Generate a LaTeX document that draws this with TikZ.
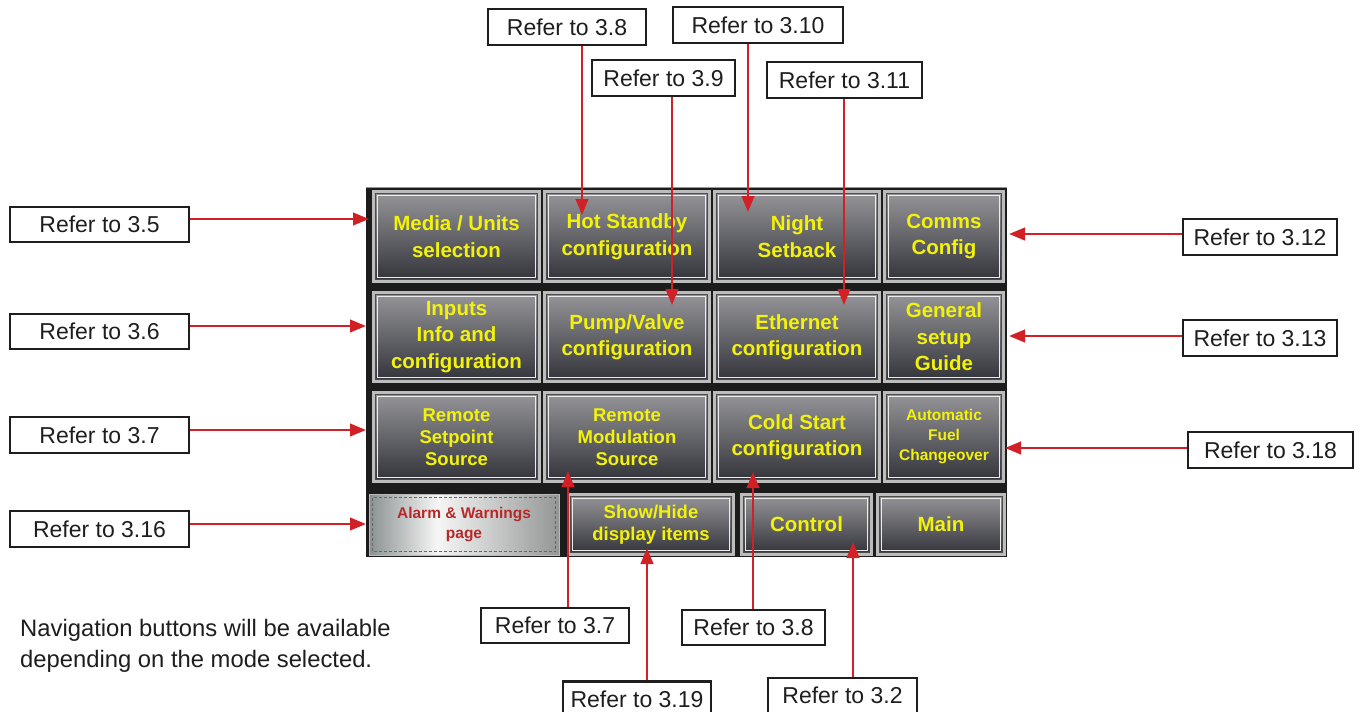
\documentclass[tikz,border=0pt]{standalone}
\usepackage{fontspec}
\setmainfont{Liberation Sans}
\usetikzlibrary{arrows.meta,calc}

\definecolor{arrowred}{RGB}{210,32,39}
\definecolor{btnyellow}{RGB}{242,242,10}
\definecolor{alarmred}{RGB}{185,40,40}
\definecolor{panelbg}{RGB}{28,28,28}
\definecolor{panelrim}{RGB}{150,150,150}
\definecolor{btnframe}{RGB}{188,188,188}
\definecolor{facetop}{RGB}{150,150,154}
\definecolor{facebot}{RGB}{50,51,57}
\definecolor{metalL}{RGB}{138,144,144}
\definecolor{metalH}{RGB}{246,246,246}
\definecolor{metalR}{RGB}{148,150,150}
\definecolor{labelink}{RGB}{30,30,30}

% brushed-metal face of the alarm button
\pgfdeclarehorizontalshading{metal}{100bp}{color(0bp)=(metalL); color(25bp)=(metalL); color(43bp)=(metalH); color(75bp)=(metalR); color(100bp)=(metalR)}

\tikzset{
  refbox/.style={draw=labelink, line width=2.3pt, fill=white, inner sep=0pt,
    text=labelink, font=\fontsize{23}{27}\selectfont},
  arr/.style={draw=arrowred, line width=2.6pt, -{Triangle[length=16pt,width=12.5pt]}},
  btn/.style={rectangle, inner sep=0pt, draw=btnframe, line width=3pt,
    top color=facetop, bottom color=facebot, text=btnyellow, align=center,
    font=\bfseries\fontsize{20.5}{26.5}\selectfont,
    path picture={
      \draw[black!70, line width=1.2pt]
        ([shift={(2.2pt,-2.2pt)}]path picture bounding box.north west) rectangle
        ([shift={(-2.2pt,2.2pt)}]path picture bounding box.south east);
      \draw[white!85!gray, line width=1pt]
        ([shift={(3.6pt,-3.6pt)}]path picture bounding box.north west) rectangle
        ([shift={(-3.6pt,3.6pt)}]path picture bounding box.south east);
    }},
  smallbtn/.style={btn, font=\bfseries\fontsize{18.5}{22}\selectfont},
  tinybtn/.style={btn, font=\bfseries\fontsize{15.5}{20}\selectfont},
  alarmbtn/.style={rectangle, inner sep=0pt, draw=gray!55, line width=1pt,
    shading=metal, text=alarmred, align=center,
    font=\bfseries\fontsize{15.5}{20}\selectfont,
    path picture={
      \draw[black!60, line width=0.9pt, dash pattern=on 3pt off 2pt]
        ([shift={(3.5pt,-3.5pt)}]path picture bounding box.north west) rectangle
        ([shift={(-3.5pt,3.5pt)}]path picture bounding box.south east);
    }},
}

\begin{document}
\begin{tikzpicture}[x=1pt,y=-1pt]
\useasboundingbox[fill=white] (0,0) rectangle (1358,712);

% ---- touch-screen panel ----
\fill[panelbg] (366,187) rectangle (1007,557);
\draw[panelrim, line width=1.5pt] (366,187.5) -- (1007,187.5);

% row 1
\node[btn, minimum width=166pt, minimum height=90pt] (media) at (456.5,236.5) {Media / Units\\selection};
\node[btn, minimum width=165pt, minimum height=90pt] (hot)   at (627,236.5)   {Hot Standby\\configuration};
\node[btn, minimum width=165pt, minimum height=90pt] (night) at (797,236.5)   {Night\\Setback};
\node[btn, minimum width=119pt, minimum height=90pt] (comms) at (944,236.5)   {Comms\\Config};
% row 2
\node[btn, minimum width=166pt, minimum height=89pt] (inputs)  at (456.5,337) {Inputs\\Info and\\configuration};
\node[btn, minimum width=165pt, minimum height=89pt] (pump)    at (627,337)   {Pump/Valve\\configuration};
\node[btn, minimum width=165pt, minimum height=89pt] (ether)   at (797,337)   {Ethernet\\configuration};
\node[btn, minimum width=119pt, minimum height=89pt] (general) at (944,337)   {General\\setup\\Guide};
% row 3
\node[smallbtn, minimum width=166pt, minimum height=89pt] (rsp)  at (456.5,437) {Remote\\Setpoint\\Source};
\node[smallbtn, minimum width=165pt, minimum height=89pt] (rmod) at (627,437)   {Remote\\Modulation\\Source};
\node[btn,      minimum width=165pt, minimum height=89pt] (cold) at (797,437)   {Cold Start\\configuration};
\node[tinybtn,  minimum width=119pt, minimum height=89pt] (fuel) at (944,437)   {Automatic\\Fuel\\Changeover};
% row 4
\node[alarmbtn, minimum width=190pt, minimum height=61pt] (alarm) at (464,524.5) {Alarm \& Warnings\\page};
\node[smallbtn, minimum width=165pt, minimum height=60pt] (show)  at (651,524.5) {Show/Hide\\display items};
\node[btn,      minimum width=130pt, minimum height=60pt] (ctrl)  at (806.5,524.5) {Control};
\node[btn,      minimum width=127pt, minimum height=60pt] (main)  at (941,524.5) {Main};

% ---- reference labels ----
\node[refbox, minimum width=179pt, minimum height=35pt] (l35)  at (99.5,224.5) {Refer to 3.5};
\node[refbox, minimum width=179pt, minimum height=35pt] (l36)  at (99.5,331.5) {Refer to 3.6};
\node[refbox, minimum width=179pt, minimum height=36pt] (l37)  at (99.5,435)   {Refer to 3.7};
\node[refbox, minimum width=179pt, minimum height=36pt] (l316) at (99.5,529)   {Refer to 3.16};

\node[refbox, minimum width=154pt, minimum height=36pt] (l312) at (1260,237)   {Refer to 3.12};
\node[refbox, minimum width=154pt, minimum height=36pt] (l313) at (1260,338)   {Refer to 3.13};
\node[refbox, minimum width=165pt, minimum height=36pt] (l318) at (1270.5,450) {Refer to 3.18};

\node[refbox, minimum width=158pt, minimum height=36pt] (l38)  at (567,27)    {Refer to 3.8};
\node[refbox, minimum width=170pt, minimum height=36pt] (l310) at (758,25)    {Refer to 3.10};
\node[refbox, minimum width=143pt, minimum height=36pt] (l39)  at (663.5,78)  {Refer to 3.9};
\node[refbox, minimum width=155pt, minimum height=36pt] (l311) at (844.5,80)  {Refer to 3.11};

\node[refbox, minimum width=148pt, minimum height=35pt] (b37)  at (555,625.5)   {Refer to 3.7};
\node[refbox, minimum width=143pt, minimum height=35pt] (b38)  at (753.5,627.5) {Refer to 3.8};
\node[refbox, minimum width=148pt, minimum height=35pt] (b319) at (637,699)     {Refer to 3.19};
\node[refbox, minimum width=149pt, minimum height=35pt] (b32)  at (842.5,695.5) {Refer to 3.2};

% ---- arrow tips ----
\coordinate (t35)  at (369,219);
\coordinate (t36)  at (366,326);
\coordinate (t37)  at (366,430);
\coordinate (t316) at (366,524);
\coordinate (t312) at (1009,234);
\coordinate (t313) at (1009,336);
\coordinate (t318) at (1005,448);
\coordinate (t38)  at (582,215);
\coordinate (t310) at (748,212);
\coordinate (t39)  at (672,305);
\coordinate (t311) at (844,305);
\coordinate (u37)  at (568,471);
\coordinate (u38)  at (753,472);
\coordinate (u319) at (647,548);
\coordinate (u32)  at (853,542);

% ---- connectors ----
\draw[arr] (l35.east |- t35)   -- (t35);
\draw[arr] (l36.east |- t36)   -- (t36);
\draw[arr] (l37.east |- t37)   -- (t37);
\draw[arr] (l316.east |- t316) -- (t316);
\draw[arr] (l312.west |- t312) -- (t312);
\draw[arr] (l313.west |- t313) -- (t313);
\draw[arr] (l318.west |- t318) -- (t318);
\draw[arr] (l38.south -| t38)  -- (t38);
\draw[arr] (l310.south -| t310) -- (t310);
\draw[arr] (l39.south -| t39)  -- (t39);
\draw[arr] (l311.south -| t311) -- (t311);
\draw[arr] (b37.north -| u37)  -- (u37);
\draw[arr] (b38.north -| u38)  -- (u38);
\draw[arr] (b319.north -| u319) -- (u319);
\draw[arr] (b32.north -| u32)  -- (u32);

% ---- footnote ----
\node[anchor=north west, inner sep=0pt, align=left, text=labelink,
      font=\fontsize{23.8}{31}\selectfont] (note) at (20,619)
  {Navigation buttons will be available\\depending on the mode selected.};
\end{tikzpicture}
\end{document}
